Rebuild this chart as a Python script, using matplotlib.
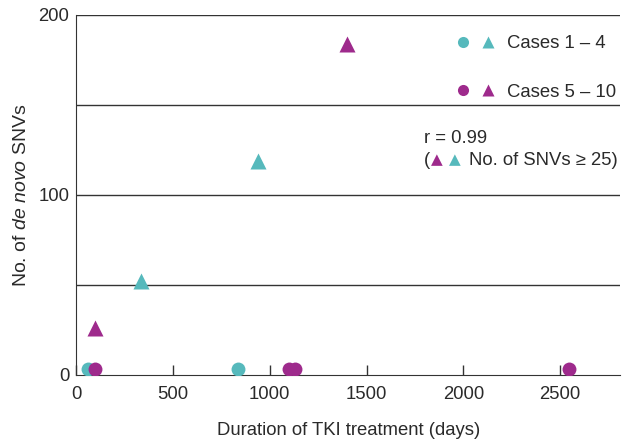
import matplotlib
matplotlib.use("Agg")
import matplotlib.pyplot as plt
from matplotlib.legend_handler import HandlerTuple
from matplotlib.lines import Line2D

# ── Data ───────────────────────────────────────────────────────────────────
# Cases 1-4 (cyan)
c14_circle_days = [60, 835]
c14_circle_snvs = [3, 3]
c14_tri_days    = [335, 940]
c14_tri_snvs    = [52, 119]

# Cases 5-10 (magenta)
c510_circle_days = [95, 1098, 1128, 2545]
c510_circle_snvs = [3, 3, 3, 3]
c510_tri_days    = [95, 1400]
c510_tri_snvs    = [26, 184]

CYAN    = "#56b9bc"
MAGENTA = "#9e2a8c"
TXT     = "#2a2a2a"
FS      = 13.3

plt.rcParams["font.family"] = ["Liberation Sans", "DejaVu Sans"]
plt.rcParams["mathtext.fontset"] = "custom"
plt.rcParams["mathtext.rm"] = "Liberation Sans"
plt.rcParams["mathtext.it"] = "Liberation Sans:italic"

fig = plt.figure(figsize=(6.4, 4.41), dpi=100)
ax = fig.add_axes([0.119, 0.150, 0.850, 0.816])

ms_c, ms_t = 10, 11
ax.plot(c14_circle_days, c14_circle_snvs, "o", color=CYAN, ms=ms_c, mec="none", zorder=3)
ax.plot(c510_circle_days, c510_circle_snvs, "o", color=MAGENTA, ms=ms_c, mec="none", zorder=4)
ax.plot(c14_tri_days, c14_tri_snvs, "^", color=CYAN, ms=ms_t, mec="none", zorder=3)
ax.plot(c510_tri_days, c510_tri_snvs, "^", color=MAGENTA, ms=ms_t, mec="none", zorder=3)

ax.set_xlim(0, 2810)
ax.set_ylim(0, 200)
ax.set_xticks([0, 500, 1000, 1500, 2000, 2500])
ax.set_yticks([0, 100, 200])
ax.tick_params(axis="x", direction="in", length=7, width=1, labelsize=FS, pad=8,
               labelcolor=TXT, color="#333333")
ax.tick_params(axis="y", length=0, labelsize=FS, pad=5, labelcolor=TXT)
for y in [50, 100, 150, 200]:
    ax.axhline(y, color="#333333", lw=1, zorder=1)
for s in ["top", "right"]:
    ax.spines[s].set_visible(False)
for s in ["left", "bottom"]:
    ax.spines[s].set_color("#333333")

ax.set_xlabel("Duration of TKI treatment (days)", fontsize=FS, labelpad=14, color=TXT)
ax.set_ylabel("No. of $\\it{de\\ novo}$ SNVs", fontsize=14, labelpad=6, color=TXT)

# legend: circle + triangle pairs
h14 = (Line2D([], [], ls="none", marker="o", color=CYAN, ms=8, mec="none"),
       Line2D([], [], ls="none", marker="^", color=CYAN, ms=8, mec="none"))
h510 = (Line2D([], [], ls="none", marker="o", color=MAGENTA, ms=8, mec="none"),
        Line2D([], [], ls="none", marker="^", color=MAGENTA, ms=8, mec="none"))
leg = ax.legend([h14, h510], ["Cases 1 – 4", "Cases 5 – 10"],
                handler_map={tuple: HandlerTuple(ndivide=None, pad=0.6)},
                loc="upper right", bbox_to_anchor=(1.023, 0.99), frameon=False,
                fontsize=FS, handlelength=2.2, handletextpad=0.6, labelspacing=1.7)
for t in leg.get_texts():
    t.set_color(TXT)

# correlation note
ax.text(0.640, 0.657, "r = 0.99", transform=ax.transAxes, fontsize=FS,
        va="center", color=TXT)
ax.text(0.640, 0.597, "(", transform=ax.transAxes, fontsize=FS, va="center", color=TXT)
ax.text(0.652, 0.597, "▲", transform=ax.transAxes, fontsize=11, va="center",
        color=MAGENTA, family="DejaVu Sans")
ax.text(0.686, 0.597, "▲", transform=ax.transAxes, fontsize=11, va="center",
        color=CYAN, family="DejaVu Sans")
ax.text(0.722, 0.597, "No. of SNVs ≥ 25)", transform=ax.transAxes, fontsize=FS,
        va="center", color=TXT)

fig.savefig("out.png", dpi=100)
